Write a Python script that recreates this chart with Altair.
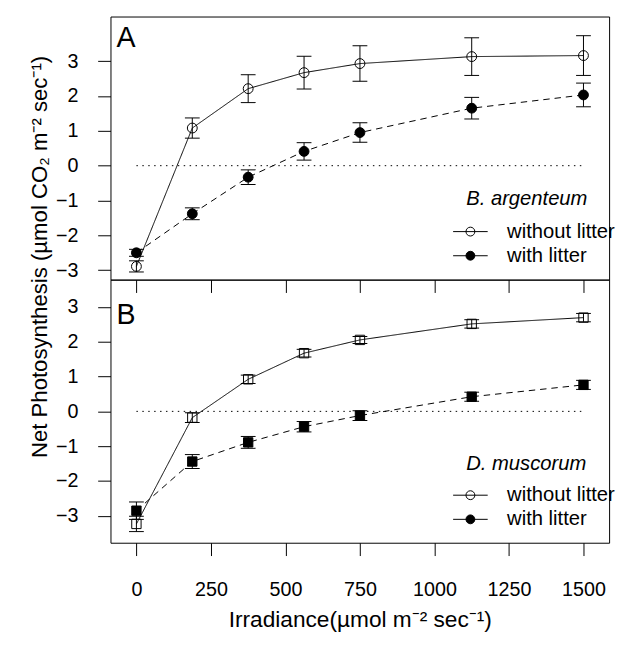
import altair as alt
import pandas as pd

# ---- data ----
irradiance = [0, 187.5, 375, 562.5, 750, 1125, 1500]
conditions = ["without litter", "with litter"]
species = ["B. argenteum", "D. muscorum"]
panel_labels = ["A", "B"]

a_without_mean = [-2.89, 1.08, 2.21, 2.67, 2.93, 3.13, 3.16]
a_without_se = [0.16, 0.29, 0.40, 0.47, 0.51, 0.54, 0.57]
a_with_mean = [-2.50, -1.38, -0.33, 0.41, 0.95, 1.65, 2.03]
a_with_se = [0.10, 0.17, 0.21, 0.25, 0.28, 0.31, 0.34]

b_without_mean = [-3.23, -0.18, 0.92, 1.67, 2.05, 2.51, 2.69]
b_without_se = [0.22, 0.14, 0.12, 0.11, 0.10, 0.12, 0.12]
b_with_mean = [-2.85, -1.44, -0.89, -0.44, -0.12, 0.42, 0.76]
b_with_se = [0.25, 0.20, 0.17, 0.15, 0.14, 0.13, 0.13]

x_ticks = [0, 250, 500, 750, 1000, 1250, 1500]
y_ticks = [-3, -2, -1, 0, 1, 2, 3]

x_title = "Irradiance(\u00b5mol m\u207b\u00b2 sec\u207b\u00b9)"
y_title = "Net Photosynthesis (\u00b5mol CO\u2082 m\u207b\u00b2 sec\u207b\u00b9)"

FONT = "Liberation Sans"
W, H = 506, 267
X_DOMAIN = [-87, 1586]

LEGEND_PATH = "M-3.9,0L3.9,0M-1,0A1,1,0,1,1,1,0A1,1,0,1,1,-1,0Z"
DASHES = {conditions[0]: [1, 0], conditions[1]: [6.5, 5]}


def make_df(wo_m, wo_se, w_m, w_se):
    rows = []
    for cond, m, se in ((conditions[0], wo_m, wo_se), (conditions[1], w_m, w_se)):
        for x, mm, s in zip(irradiance, m, se):
            rows.append({"irr": x, "cond": cond, "mean": mm, "lo": mm - s, "hi": mm + s})
    return pd.DataFrame(rows)


def panel(df, sp, label, ydomain, shape, msize, bottom, label_y, legend_y, title_pad, ytitle=False):
    xscale = alt.Scale(domain=X_DOMAIN, nice=False, zero=False)
    yscale = alt.Scale(domain=ydomain, nice=False, zero=False)
    if bottom:
        xaxis = alt.Axis(values=x_ticks, tickSize=13, labelPadding=25, labelFontSize=20,
                         labelColor="black", tickColor="black", title=x_title,
                         titleFontSize=23, titleFontWeight=400, titlePadding=9,
                         titleColor="black", domain=False, grid=False, format="d")
    else:
        xaxis = alt.Axis(values=x_ticks, tickSize=13, labels=False, title=None,
                         tickColor="black", domain=False, grid=False)
    yaxis = alt.Axis(values=y_ticks, tickSize=13, labelPadding=20, labelFontSize=20,
                     labelColor="black", tickColor="black", title=None, domain=False, grid=False)

    X = lambda f: alt.X(f, scale=xscale, axis=xaxis)
    Y = lambda f: alt.Y(f, scale=yscale, axis=yaxis)

    base = alt.Chart(df)

    zero = alt.Chart(pd.DataFrame({"x0": [irradiance[0]], "x1": [irradiance[-1]], "y": [0]})).mark_rule(
        color="black", strokeWidth=1, strokeDash=[1.5, 4.5]
    ).encode(x=X("x0:Q"), x2="x1:Q", y=Y("y:Q"))

    lines = [
        base.transform_filter(alt.datum.cond == c).mark_line(
            color="black", strokeWidth=1, strokeDash=DASHES[c]
        ).encode(x=X("irr:Q"), y=Y("mean:Q"))
        for c in conditions
    ]
    bars = base.mark_rule(color="black", strokeWidth=1).encode(x=X("irr:Q"), y=Y("lo:Q"), y2="hi:Q")
    cap_lo = base.mark_tick(orient="horizontal", size=15, thickness=1, color="black", opacity=1).encode(
        x=X("irr:Q"), y=Y("lo:Q"))
    cap_hi = base.mark_tick(orient="horizontal", size=15, thickness=1, color="black", opacity=1).encode(
        x=X("irr:Q"), y=Y("hi:Q"))
    pts = base.mark_point(shape=shape, size=msize, filled=True, stroke="black", strokeWidth=1, opacity=1).encode(
        x=X("irr:Q"), y=Y("mean:Q"),
        fill=alt.Fill("cond:N", scale=alt.Scale(domain=conditions, range=["transparent", "black"]),
                      legend=alt.Legend(
                          title=sp, orient="none", legendX=361, legendY=legend_y,
                          titleFontStyle="italic", titleFontWeight=400, titleFontSize=20.5,
                          titleColor="black", titleAnchor="start", titlePadding=title_pad,
                          labelFontSize=20.5, labelColor="black", labelOffset=27,
                          symbolType=LEGEND_PATH, symbolSize=81, symbolStrokeColor="black",
                          symbolStrokeWidth=1, symbolOffset=-6, rowPadding=3.5, padding=0,
                      )),
    )
    letter = alt.Chart(pd.DataFrame({"t": [label]})).mark_text(
        align="left", baseline="alphabetic", fontSize=29, font=FONT, color="black"
    ).encode(text="t:N", x=alt.value(6), y=alt.value(label_y))

    layers = [zero] + lines + [bars, cap_lo, cap_hi, pts, letter]
    if ytitle:
        yt = alt.Chart(pd.DataFrame({"t": [y_title]})).mark_text(
            align="center", baseline="middle", angle=270, fontSize=22.5, font=FONT, color="black"
        ).encode(text="t:N", x=alt.value(-71), y=alt.value(244))
        layers.append(yt)
    return alt.layer(*layers).properties(width=W, height=H)


top = panel(make_df(a_without_mean, a_without_se, a_with_mean, a_with_se), species[0], panel_labels[0],
            [-3.27, 4.28], "circle", 100, False, 31, 175, 12.5, ytitle=True)
bottom = panel(make_df(b_without_mean, b_without_se, b_with_mean, b_with_se), species[1], panel_labels[1],
               [-3.77, 3.78], "square", 90, True, 45, 177, 11)

chart = alt.vconcat(top, bottom, spacing=0, bounds="flush").resolve_scale(
    y="independent", fill="independent"
).resolve_legend(fill="independent").properties(
    padding={"left": 21, "top": 3, "right": 0, "bottom": 0}
).configure(font=FONT).configure_view(stroke="black", strokeWidth=1)

chart.save("out.html", embed_options={"renderer": "svg", "actions": False})
